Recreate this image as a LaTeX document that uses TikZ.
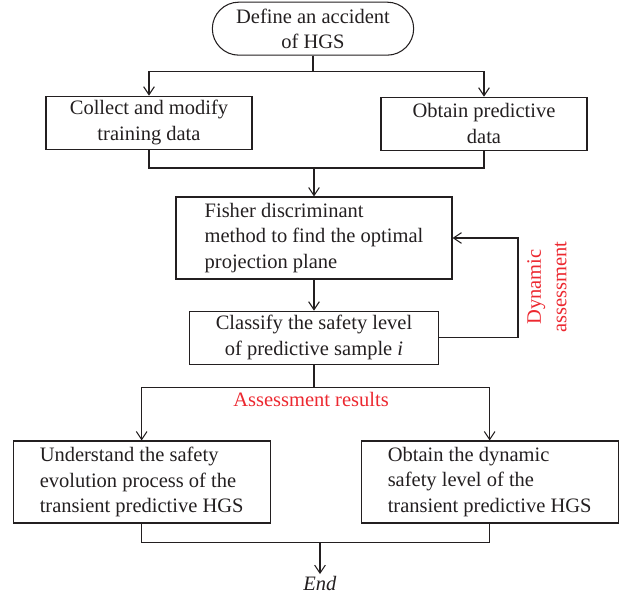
\documentclass[tikz,border=0pt]{standalone}
\usepackage{fontspec}
\setmainfont{Liberation Serif}
\usetikzlibrary{arrows.meta, positioning, shapes.misc}
\definecolor{ink}{RGB}{35,31,32}
\definecolor{notered}{RGB}{236,40,48}

\begin{document}
\begin{tikzpicture}[
  font=\fontsize{17.5}{21.7}\selectfont,
  line width=0.9pt,
  box/.style={draw=ink, text=ink, align=center, minimum width=6.18cm, minimum height=1.59cm, inner sep=2pt},
  widebox/.style={draw=ink, text=ink, align=left, minimum width=7.71cm, minimum height=2.46cm, inner sep=2pt},
  terminal/.style={draw=ink, text=ink, rounded rectangle, align=center, minimum width=6.18cm, minimum height=1.59cm, inner sep=2pt},
  arrow/.style={-{Straight Barb[length=2.4mm, width=3.2mm]}, draw=ink},
  link/.style={draw=ink},
  note/.style={text=notered, align=center}
]
\useasboundingbox (0,0) rectangle (18.99,-17.91);

\node[terminal] (start) at (9.39,-0.86) {Define an accident\\of HGS};
\node[box] (collect) at (4.47,-3.68) {Collect and modify\\training data};
\node[box] (predict) at (14.52,-3.71) {Obtain predictive\\data};
\node[widebox, minimum width=8.28cm] (fisher) at (9.42,-7.14) {Fisher discriminant\\method to find the optimal\\projection plane};
\node[box, minimum width=7.47cm] (classify) at (9.42,-10.13) {Classify the safety level\\of predictive sample \textit{i}};
\node[widebox] (under) at (4.25,-14.46) {Understand the safety\\evolution process of the\\transient predictive HGS};
\node[widebox] (level) at (14.69,-14.46) {Obtain the dynamic\\safety level of the\\transient predictive HGS};
\node[text=ink, inner sep=1pt] (end) at (9.6,-17.49) {\textit{End}};

\node[note, rotate=90] (dynnote) at (16.41,-8.61) {Dynamic\\assessment};
\node[note] (resnote) at (9.33,-11.97) {Assessment results};

\draw[arrow] (start.south) -- ++(0,-0.48) -| (collect.north);
\draw[arrow] (start.south) -- ++(0,-0.48) -| (predict.north);

\coordinate (merge) at (9.42,-5.04);
\draw[link] (collect.south) |- (merge);
\draw[link] (predict.south) |- (merge);
\draw[arrow] (merge) -- (fisher.north);
\draw[arrow] (fisher.south) -- (classify.north);

\coordinate (back) at (15.54,-8.61);
\draw[arrow] (classify.east) -| (back) |- (fisher.east);

\draw[arrow] (classify.south) -- ++(0,-0.68) -| (under.north);
\draw[arrow] (classify.south) -- ++(0,-0.68) -| (level.north);

\coordinate (join) at (9.6,-16.28);
\draw[link] (under.south) |- (join);
\draw[link] (level.south) |- (join);
\draw[arrow] (join) -- (end.north);
\end{tikzpicture}
\end{document}
